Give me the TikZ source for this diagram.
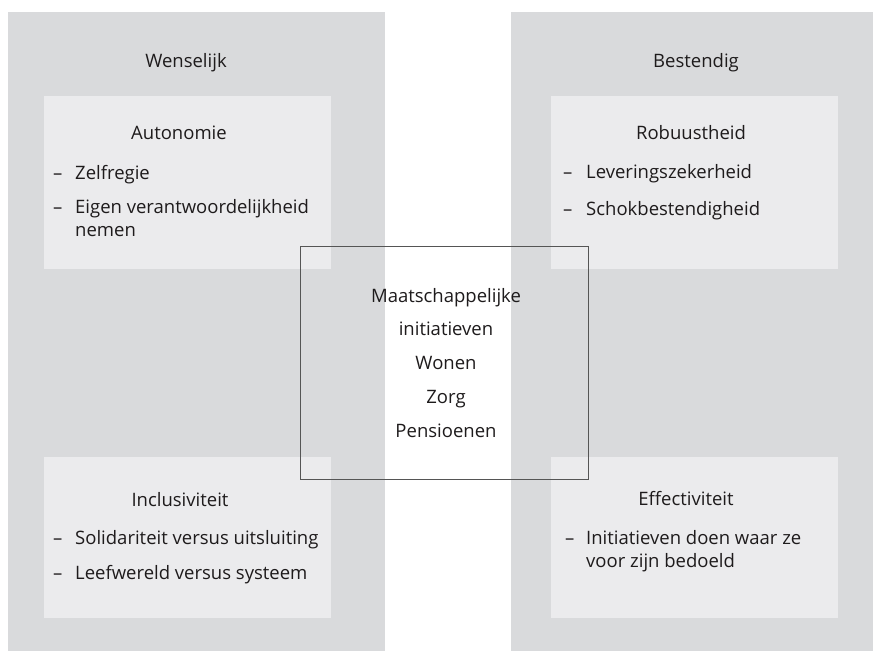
\documentclass[tikz,border=0pt]{standalone}
\usepackage{fontspec}
\setmainfont{Open Sans}
\usetikzlibrary{positioning}
\definecolor{colgray}{HTML}{D9DADC}
\definecolor{boxgray}{HTML}{EBEBED}
\definecolor{txtcol}{HTML}{1E1B1C}
\definecolor{rimcol}{HTML}{555555}

\begin{document}
\begin{tikzpicture}[x=1pt, y=-1pt,
  every node/.style={font=\fontsize{18.5}{22}\selectfont, text=txtcol, inner sep=0pt},
  lbl/.style={anchor=base},
  item/.style={anchor=base west}]
 \useasboundingbox (0,0) rectangle (878,651);

 % columns
 \foreach \x/\w in {8/377, 511/362} {
         \fill[colgray] (\x,12) rectangle (\x+\w,651);
 }
 \node[lbl] (wens) at (186,67) {Wenselijk};
 \node[lbl] (best) at (696,67) {Bestendig};

 % inner boxes
 \foreach \x/\y/\h in {44/96/173, 551/96/173, 44/457/161, 551/457/161} {
         \fill[boxgray] (\x,\y) rectangle (\x+287,\y+\h);
 }

 % headings
 \foreach \x/\y/\name/\n in {179/139/Autonomie/auto, 691/139/Robuustheid/robu,
                             180/506/Inclusiviteit/incl, 686/505/Effectiviteit/effe} {
         \node[lbl] (\n) at (\x,\y) {\name};
 }

 % dashes
 \foreach \x/\y/\n in {53/179/d1, 53/213/d2, 563/178/d3, 563/215/d4,
                       53/544/d5, 53/579/d6, 565/544/d7} {
         \node[item] (\n) at (\x,\y) {–};
 }

 % items
 \foreach \x/\y/\name/\n in {75/179/Zelfregie/t1, 75/213/Eigen verantwoordelijkheid/t2,
                             75/236/nemen/t2b, 586/178/Leveringszekerheid/t3,
                             586/215/Schokbestendigheid/t4, 75/544/Solidariteit versus uitsluiting/t5,
                             75/579/Leefwereld versus systeem/t6,
                             586/544/Initiatieven doen waar ze/t7, 586/567/voor zijn bedoeld/t7b} {
         \node[item] (\n) at (\x,\y) {\name};
 }

 % center box
 \node[draw=rimcol, line width=1pt, minimum width=288pt, minimum height=233pt] (kern) at (444,362.5) {};
 \foreach \y/\name/\n in {302/Maatschappelijke/c1, 335/initiatieven/c2, 369/Wonen/c3,
                          403/Zorg/c4, 437/Pensioenen/c5} {
         \node[lbl] (\n) at (446,\y) {\name};
 }

\end{tikzpicture}
\end{document}
